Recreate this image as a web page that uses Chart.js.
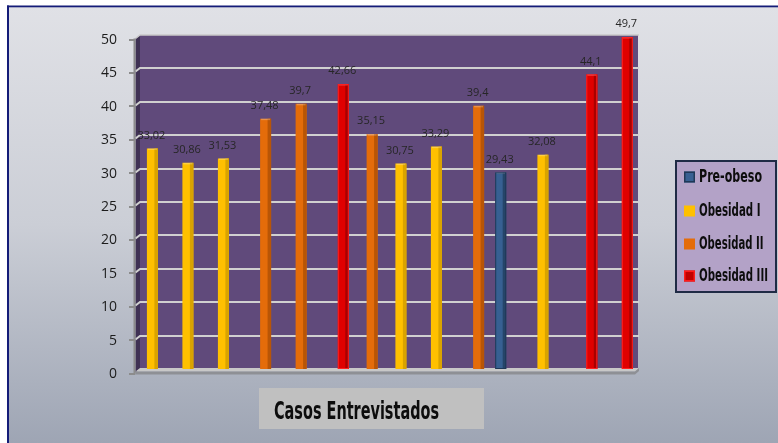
<!DOCTYPE html>
<html><head><meta charset="utf-8">
<script src="https://cdn.jsdelivr.net/npm/chart.js@4.4.1/dist/chart.umd.min.js"></script>
<style>html,body{margin:0;padding:0;background:#fff;overflow:hidden}</style>
</head><body>
<canvas id="c" width="778" height="443" style="display:block;width:778px;height:443px"></canvas>
<script>
// ---- data ----
const categories = ['1','2','3','4','5','6','7','8','9','10','11','12','13','14'];
const seriesNames = ['Pre-obeso','Obesidad I','Obesidad II','Obesidad III'];
const preObeso    = [null,null,null,null,null,null,null,null,null,null,29.43,null,null,null];
const obesidadI   = [33.02,30.86,31.53,null,null,null,null,30.75,33.29,null,null,32.08,null,null];
const obesidadII  = [null,null,null,37.48,39.7,null,35.15,null,null,39.4,null,null,null,null];
const obesidadIII = [null,null,null,null,null,42.66,null,null,null,null,null,null,44.1,49.7];
const yTickValues = [0,5,10,15,20,25,30,35,40,45,50];
const xAxisTitle = 'Casos Entrevistados';

// ---- styles ----
const faceColors = ['#376092','#ffc000','#e46c0a','#e00000'];
const sideColors = ['#254569','#d9a300','#b85506','#a80000'];
const edgeColors = ['#1f3857',null,null,'#ff2020'];
const legendFill = ['#376092','#ffc000','#e46c0a','#c00000'];
const legendEdge = ['#1f3857',null,null,'#ff1a1a'];

const seriesData = [preObeso, obesidadI, obesidadII, obesidadIII];

function condensedText(ctx, text, x, y, sizePx, targetW){
  ctx.font = 'bold ' + sizePx + 'px "DejaVu Sans", sans-serif';
  const w = ctx.measureText(text).width;
  const sx = targetW / w;
  ctx.save();
  ctx.translate(x, y);
  ctx.scale(sx, 1);
  ctx.fillText(text, 0, 0);
  ctx.restore();
  return sx;
}

const deco = {
  id: 'deco',
  beforeDraw(chart){
    const ctx = chart.ctx, ys = chart.scales.y, ca = chart.chartArea;
    const W = chart.width, H = chart.height;
    ctx.save();
    ctx.fillStyle = '#fff'; ctx.fillRect(0,0,W,H);
    const g = ctx.createLinearGradient(0,7,0,H);
    g.addColorStop(0,'#e0e1e6'); g.addColorStop(0.5,'#cbced6'); g.addColorStop(1,'#9ea5b4');
    ctx.fillStyle = g; ctx.fillRect(8,6,W-8,H-6);
    ctx.fillStyle = '#141c78';
    ctx.fillRect(7,5.5,W-7,1.8);
    ctx.fillRect(7,5.5,2,H-5.5);

    const L = ca.left + 2, R = ca.right + 3;
    const T = ys.getPixelForValue(50), B = ys.getPixelForValue(0);
    // back wall
    ctx.fillStyle = '#604a7b';
    ctx.fillRect(L, T, R - L, B - T);
    // left side wall
    ctx.fillStyle = '#3f3154';
    ctx.beginPath();
    ctx.moveTo(L-4.5, T+3.5); ctx.lineTo(L, T); ctx.lineTo(L, B); ctx.lineTo(L-4.5, B+3.5); ctx.closePath(); ctx.fill();
    // top edge
    ctx.strokeStyle = '#c9c9c9'; ctx.lineWidth = 1.5;
    ctx.beginPath(); ctx.moveTo(L-4.5, T+3.5); ctx.lineTo(L, T); ctx.lineTo(R+1, T); ctx.stroke();
    // gridlines
    ctx.strokeStyle = '#d0d0d0'; ctx.lineWidth = 2;
    yTickValues.forEach(v => {
      if (v === 0 || v === 50) return;
      const py = Math.round(ys.getPixelForValue(v));
      ctx.beginPath(); ctx.moveTo(L-4.5, py+3.5); ctx.lineTo(L, py); ctx.lineTo(R+1, py); ctx.stroke();
    });
    // floor
    ctx.fillStyle = '#c8c8c8';
    ctx.beginPath(); ctx.moveTo(L, B-1); ctx.lineTo(R+1, B-1); ctx.lineTo(R-3, B+2.5); ctx.lineTo(L-4.5, B+2.5); ctx.closePath(); ctx.fill();
    ctx.fillStyle = '#8e9095';
    ctx.fillRect(L-4.5, B+2.5, R-3-(L-4.5), 3);
    ctx.beginPath(); ctx.moveTo(R-3, B+2.5); ctx.lineTo(R+1, B-1); ctx.lineTo(R+1, B+2); ctx.lineTo(R-3, B+5.5); ctx.closePath(); ctx.fill();
    // axis line + tick marks
    ctx.strokeStyle = '#8c8c8c'; ctx.lineWidth = 2;
    ctx.beginPath(); ctx.moveTo(L-5.5, T+3.5); ctx.lineTo(L-5.5, B+5.5); ctx.stroke();
    yTickValues.forEach(v => {
      const py = Math.round(ys.getPixelForValue(v) + 4.5);
      ctx.beginPath(); ctx.moveTo(L-11, py); ctx.lineTo(L-5, py); ctx.stroke();
    });
    ctx.restore();
  },
  afterDatasetsDraw(chart){
    const ctx = chart.ctx;
    ctx.save();
    // 3D side strips + data labels
    chart.data.datasets.forEach((ds, i) => {
      const meta = chart.getDatasetMeta(i);
      meta.data.forEach((el, j) => {
        const v = ds.data[j];
        if (v === null || v === undefined) return;
        const p = el.getProps(['x','y','base','width'], true);
        const left = p.x - p.width/2, right = p.x + p.width/2;
        ctx.fillStyle = sideColors[i];
        ctx.fillRect(right - 3.5, p.y, 3.5, p.base - p.y);
        ctx.fillStyle = 'rgba(255,255,255,0.25)';
        ctx.fillRect(left + 1, p.y, p.width - 2, 1.5);
        if (edgeColors[i]) {
          ctx.strokeStyle = edgeColors[i]; ctx.lineWidth = 1;
          ctx.strokeRect(left + 0.5, p.y + 0.5, p.width - 1, p.base - p.y - 1);
        }
        ctx.fillStyle = '#262626';
        ctx.font = '11px "Open Sans", sans-serif';
        ctx.textAlign = 'center'; ctx.textBaseline = 'middle';
        ctx.fillText(String(v).replace('.', ','), p.x - 1, p.y - 13);
      });
    });
    // legend
    ctx.fillStyle = '#b3a2c7';
    ctx.fillRect(676, 161, 100, 131);
    ctx.strokeStyle = '#1f2b45'; ctx.lineWidth = 2;
    ctx.strokeRect(676, 161, 100, 131);
    const itemY = [177, 211, 244, 276];
    const textW = [63, 61.5, 64.5, 69];
    seriesNames.forEach((name, i) => {
      const cy = itemY[i];
      ctx.fillStyle = legendFill[i];
      ctx.fillRect(684, cy - 5.5, 11, 11);
      if (legendEdge[i]) { ctx.strokeStyle = legendEdge[i]; ctx.lineWidth = 1.5; ctx.strokeRect(684.75, cy - 4.75, 9.5, 9.5); }
      ctx.fillStyle = '#0d0d0d';
      ctx.textAlign = 'left'; ctx.textBaseline = 'middle';
      condensedText(ctx, name, 699, cy + 1, 17, textW[i]);
    });
    // x axis title box
    ctx.fillStyle = '#c0c0c0';
    ctx.fillRect(259, 388, 225, 41);
    ctx.fillStyle = '#0d0d0d';
    ctx.textAlign = 'left'; ctx.textBaseline = 'alphabetic';
    condensedText(ctx, xAxisTitle, 274, 419, 25, 165);
    ctx.restore();
  }
};

const datasets = seriesNames.map((name, i) => ({
  label: name,
  data: seriesData[i],
  backgroundColor: faceColors[i],
  borderWidth: 0,
  categoryPercentage: 0.755,
  barPercentage: 1.64
}));

new Chart(document.getElementById('c'), {
  type: 'bar',
  data: { labels: categories, datasets },
  options: {
    responsive: false,
    animation: false,
    devicePixelRatio: 1,
    layout: { padding: { left: 0, right: 143, top: 35, bottom: 74 } },
    plugins: { legend: { display: false }, tooltip: { enabled: false }, title: { display: false } },
    scales: {
      x: { display: false },
      y: {
        min: 0, max: 50,
        afterFit(s){ s.width = 138; },
        grid: { display: false, drawTicks: false },
        border: { display: false },
        ticks: {
          stepSize: 5,
          padding: 21,
          labelOffset: 5,
          color: '#1c1c1c',
          font: { family: '"Open Sans", sans-serif', size: 14 },
          callback: (v) => String(v)
        }
      }
    }
  },
  plugins: [deco]
});
</script>
</body></html>
